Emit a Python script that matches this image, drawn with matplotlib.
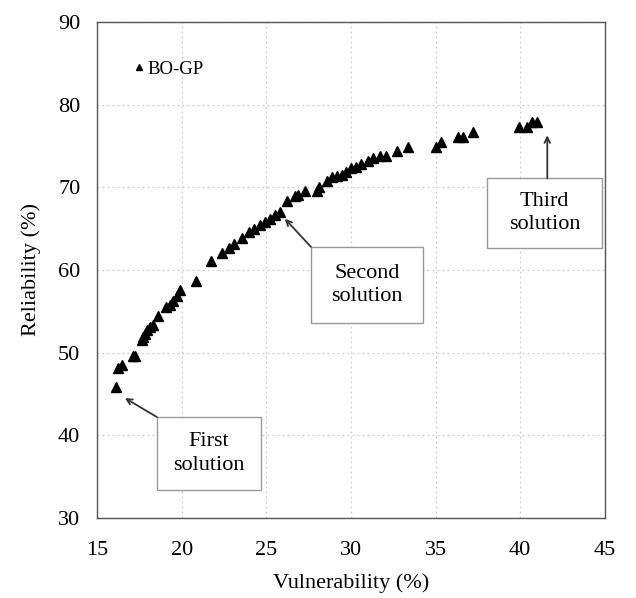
import matplotlib
matplotlib.use("Agg")
import matplotlib.pyplot as plt
from matplotlib.patches import Rectangle

# Pareto front points (Vulnerability %, Reliability %)
vulnerability = [16.1, 16.26, 16.46, 17.1, 17.25, 17.64, 17.74, 17.84, 17.95, 18.13,
                 18.33, 18.62, 19.1, 19.31, 19.5, 19.74, 19.9, 20.85, 21.75, 22.4,
                 22.8, 23.1, 23.55, 24.0, 24.3, 24.6, 24.9, 25.2, 25.5, 25.8,
                 26.2, 26.7, 26.9, 27.3, 28.0, 28.1, 28.6, 28.9, 29.2, 29.5,
                 29.7, 30.0, 30.3, 30.6, 31.0, 31.3, 31.7, 32.1, 32.7, 33.4,
                 35.0, 35.3, 36.3, 36.6, 37.2, 39.9, 40.4, 40.7, 41.0]
reliability = [45.8, 48.1, 48.5, 49.6, 49.6, 51.5, 51.9, 52.3, 52.7, 53.1,
               53.3, 54.4, 55.5, 55.8, 56.2, 56.8, 57.6, 58.7, 61.1, 62.1,
               62.7, 63.2, 63.9, 64.6, 65.0, 65.4, 65.8, 66.2, 66.6, 67.0,
               68.4, 68.9, 69.1, 69.6, 69.6, 70.1, 70.8, 71.2, 71.4, 71.5,
               71.9, 72.3, 72.5, 72.8, 73.2, 73.5, 73.8, 73.8, 74.4, 74.9,
               74.9, 75.5, 76.1, 76.1, 76.7, 77.3, 77.3, 77.9, 77.9]

x_ticks = [15, 20, 25, 30, 35, 40, 45]
y_ticks = [30, 40, 50, 60, 70, 80, 90]

# callouts: text, point the arrow hits, box (x0, y0, x1, y1), arrow start
callouts = [
    ('First\nsolution', (16.65, 44.5), (18.54, 33.4, 24.69, 42.2), (18.54, 42.2)),
    ('Second\nsolution', (26.1, 66.2), (27.64, 53.6, 34.26, 62.8), (27.64, 62.8)),
    ('Third\nsolution', (41.6, 76.3), (38.04, 62.65, 44.83, 71.1), (41.6, 71.1)),
]

plt.rcParams['font.family'] = ['Liberation Serif', 'DejaVu Serif']

fig = plt.figure(figsize=(6.36, 5.98), dpi=100)
ax = fig.add_axes([0.1525, 0.134, 0.7985, 0.829])

ax.plot(vulnerability, reliability, linestyle='none', marker='^', color='black',
        markersize=7, label='BO-GP')

ax.set_xlim(15, 45)
ax.set_ylim(30, 90)
ax.set_xticks(x_ticks)
ax.set_yticks(y_ticks)
ax.tick_params(length=0, labelsize=16)
ax.tick_params(axis='x', pad=17)
ax.tick_params(axis='y', pad=12)
ax.grid(True, linestyle=(0, (1.5, 2.5)), color='#cccccc', linewidth=0.9)
ax.set_axisbelow(True)
for s in ax.spines.values():
    s.set_color('#555555')
    s.set_linewidth(1.0)

ax.set_xlabel('Vulnerability (%)', fontsize=16, labelpad=9)
ax.set_ylabel('Reliability (%)', fontsize=16, labelpad=12)

ax.legend(loc='center left', bbox_to_anchor=(0.071, 0.905), frameon=False,
          fontsize=13.5, markerscale=0.7, handlelength=0.6, handletextpad=0.15,
          borderpad=0, borderaxespad=0)

for label, tip, (x0, y0, x1, y1), start in callouts:
    ax.add_patch(Rectangle((x0, y0), x1 - x0, y1 - y0, facecolor='white',
                           edgecolor='#999999', linewidth=1, zorder=3))
    ax.text((x0 + x1) / 2, (y0 + y1) / 2, label, ha='center', va='center',
            fontsize=16, linespacing=1.3, zorder=4)
    ax.annotate('', xy=tip, xytext=start,
                arrowprops=dict(arrowstyle='->', color='#333333', lw=1.3,
                                shrinkA=0, shrinkB=0))

fig.savefig('out.png', dpi=100, facecolor='white')
